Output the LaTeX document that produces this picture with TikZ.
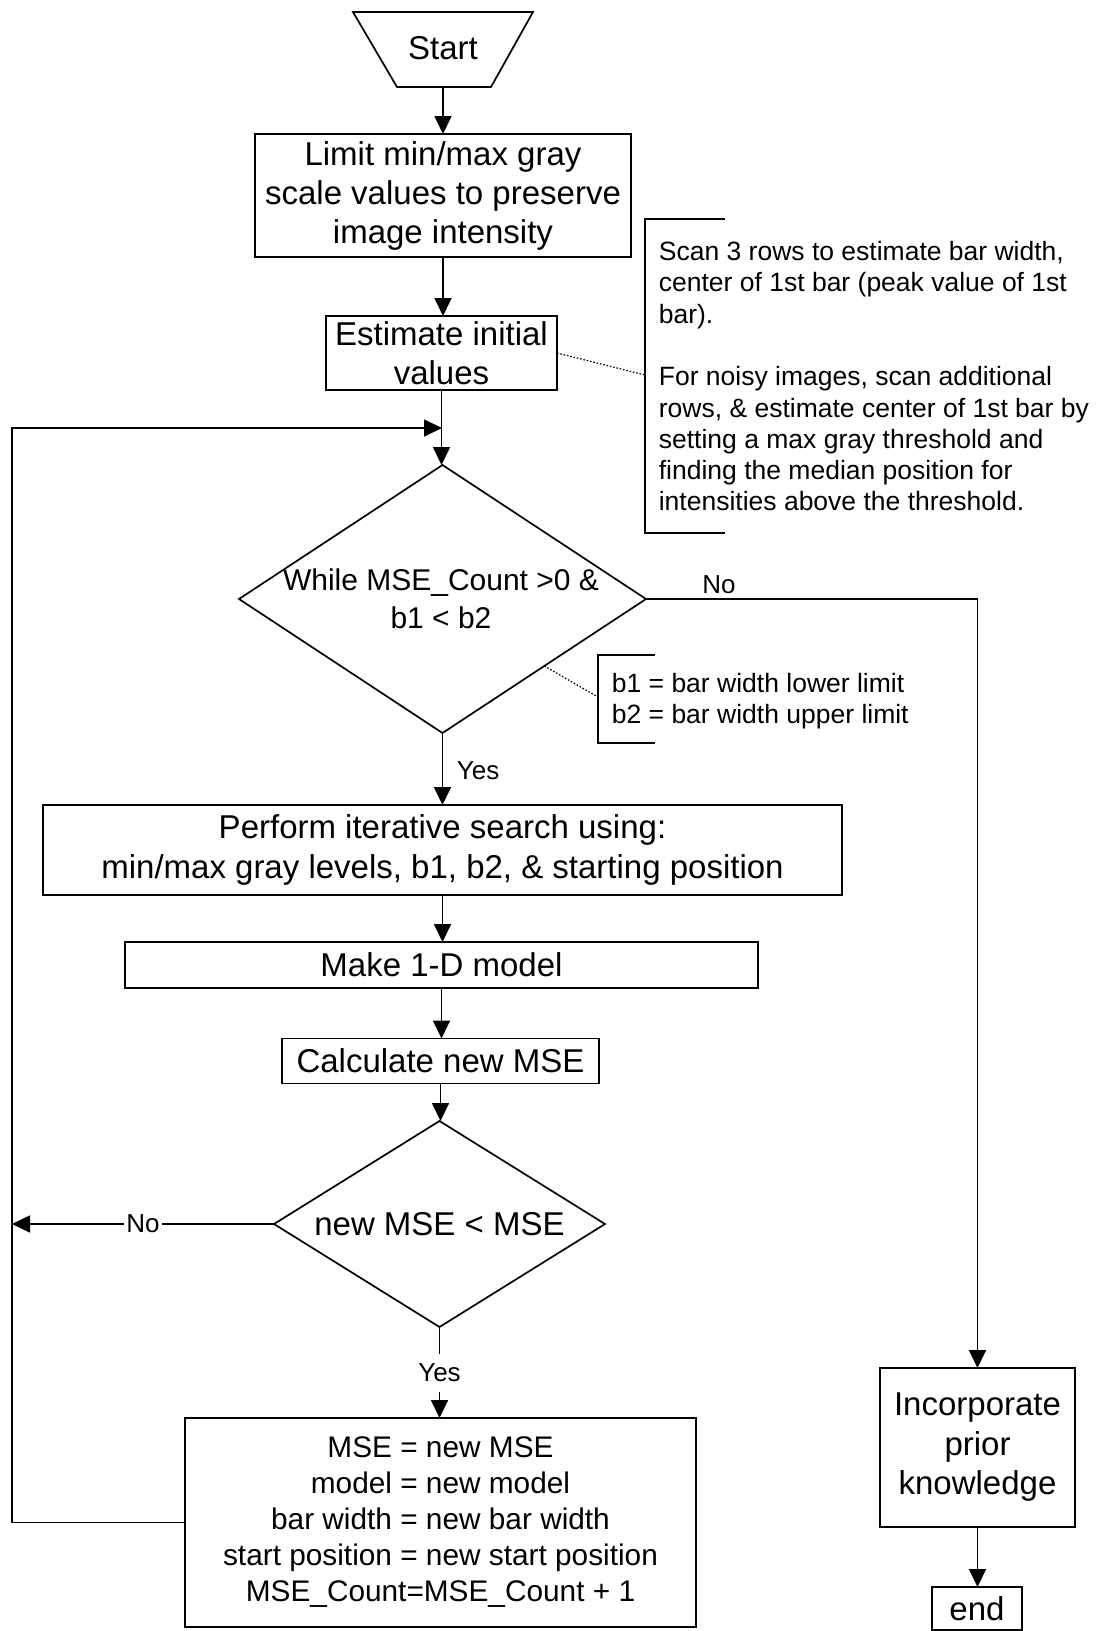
\documentclass[tikz,border=0pt]{standalone}
\usepackage{fontspec}
\setmainfont{Liberation Sans}
\usetikzlibrary{shapes.geometric,arrows.meta}
\begin{document}
\begin{tikzpicture}[x=1pt,y=-1pt,
  line width=1.7pt,
  box/.style={draw, rectangle, inner sep=0pt, outer sep=0pt, align=center,
    font=\fontsize{33}{39}\selectfont},
  dia/.style={draw, diamond, inner sep=0pt, outer sep=0pt},
  dtxt/.style={inner sep=0pt, align=center},
  lbl/.style={font=\fontsize{26}{31}\selectfont, inner sep=0pt},
  notetxt/.style={font=\fontsize{26.5}{31.3}\selectfont, inner sep=0pt, align=left, anchor=north west},
  arr/.style={-{Triangle[length=18pt,width=17pt]}},
  note/.style={line width=1.2pt, dash pattern=on 1.6pt off 1.8pt},
  brk/.style={line width=1.5pt},
]
\useasboundingbox (0,0) rectangle (1097,1631);

% Start terminal
\draw (353,12) -- (533,12) -- (491,87) -- (397,87) -- cycle;
\node[font=\fontsize{33}{39}\selectfont, inner sep=0pt] (start) at (443,48) {Start};
\coordinate (startb) at (443,87);

% process boxes
\node[box, minimum width=376, minimum height=123] (b1) at (443,195.5)
  {Limit min/max gray\\scale values to preserve\\image intensity};
\node[box, minimum width=231, minimum height=74] (b2) at (441.5,353)
  {Estimate initial\\values};
\node[dia, minimum width=407, minimum height=268] (d1) at (442.5,599) {};
\node[dtxt, font=\fontsize{30}{38}\selectfont] (d1t) at (441,599)
  {While MSE\_Count >0 \&\\b1 < b2};
\node[box, font=\fontsize{33}{40}\selectfont, minimum width=799, minimum height=90] (b3) at (442.5,850)
  {Perform iterative search using:\\min/max gray levels, b1, b2, \& starting position};
\node[box, minimum width=633, minimum height=46] (b4) at (441.5,965) {Make 1-D model};
\node[box, minimum width=317, minimum height=45] (b5) at (440.5,1061) {Calculate new MSE};
\node[dia, minimum width=331, minimum height=206] (d2) at (439.5,1224) {};
\node[dtxt, font=\fontsize{33}{39}\selectfont] (d2t) at (439.5,1224) {new MSE < MSE};
\node[box, font=\fontsize{29.8}{36}\selectfont, minimum width=511, minimum height=209] (b6) at (440.5,1522.5)
  {MSE = new MSE\\model = new model\\bar width = new bar width\\start position = new start position\\MSE\_Count=MSE\_Count + 1};
\node[box, font=\fontsize{33}{39.5}\selectfont, minimum width=195, minimum height=159] (inc) at (977.5,1447.5)
  {Incorporate\\prior\\knowledge};
\node[box, minimum width=90, minimum height=43] (end) at (977,1608.5) {end};

% annotations
\coordinate (a1t) at (725,219);
\coordinate (a1tl) at (645,219);
\coordinate (a1bl) at (645,533);
\coordinate (a1b) at (725,533);
\coordinate (a1d) at (645,375);
\draw[brk] (a1t) -- (a1tl) -- (a1bl) -- (a1b);
\node[notetxt] (n1) at (658,240.5)
  {Scan 3 rows to estimate bar width,\\center of 1st bar (peak value of 1st\\bar).\\[31.3pt]For noisy images, scan additional\\rows, \& estimate center of 1st bar by\\setting a max gray threshold and\\finding the median position for\\intensities above the threshold.};
\draw[note] (b2.east) -- (a1d);

\coordinate (a2t) at (655,655);
\coordinate (a2tl) at (598,655);
\coordinate (a2bl) at (598,743);
\coordinate (a2b) at (655,743);
\coordinate (a2d) at (598,697);
\draw[brk] (a2t) -- (a2tl) -- (a2bl) -- (a2b);
\node[notetxt, font=\fontsize{26.5}{31}\selectfont] (n2) at (611,672)
  {b1 = bar width lower limit\\b2 = bar width upper limit};
\draw[note] (d1.south east) -- (a2d);

% connectors
\coordinate (lx) at (12,0);
\coordinate (loopin) at (442,428);
\draw[arr] (startb) -- (b1.north);
\draw[arr] (b1.south) -- (b1.south |- b2.north);
\draw[arr] (b2.south) -- (b2.south |- d1.north);
\draw[arr] (d1.south) -- (d1.south |- b3.north);
\node[lbl, anchor=west] (yes1) at (456,771) {Yes};
\draw[arr] (b3.south) -- (b3.south |- b4.north);
\draw[arr] (b4.south) -- (b4.south |- b5.north);
\draw[arr] (b5.south) -- (b5.south |- d2.north);
\draw[arr] (d2.south) -- node[lbl, fill=white, inner xsep=2pt, inner ysep=10pt, pos=0.505] (yes2) {Yes} (d2.south |- b6.north);
\draw[arr] (d2.west) -- node[lbl, fill=white, inner xsep=2pt, inner ysep=3pt, pos=0.5] (no2) {No} (d2.west -| lx);
\draw[arr] (b6.west) -- (b6.west -| lx) -- (lx |- loopin) -- (loopin);
\draw[arr] (d1.east) -| (inc.north);
\node[lbl] (no1) at (719,585) {No};
\draw[arr] (inc.south) -- (inc.south |- end.north);
\end{tikzpicture}
\end{document}
